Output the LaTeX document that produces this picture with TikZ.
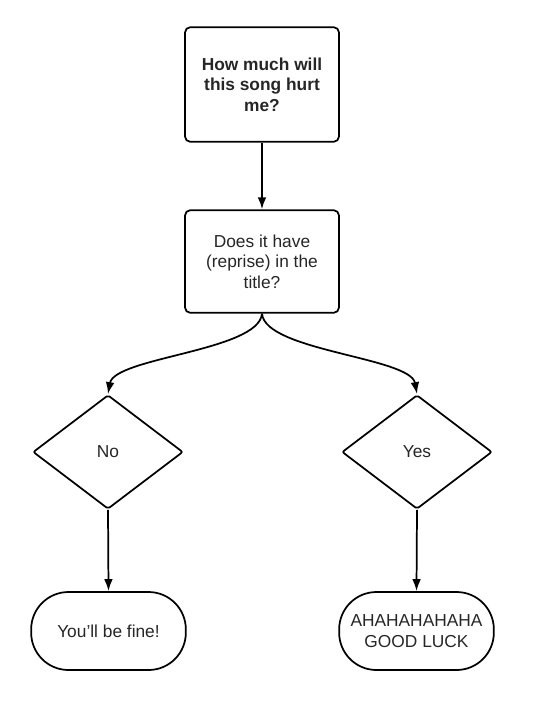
\documentclass[tikz,border=0pt]{standalone}
\usepackage{fontspec}
\setmainfont{Liberation Sans}
\usetikzlibrary{arrows.meta,shapes.geometric}

\tikzset{
	procbox/.style={draw, rectangle, rounded corners=4pt, minimum width=115.5pt, align=center, inner sep=2pt},
	choice/.style={draw, diamond, rounded corners=1.5pt, minimum width=112.5pt, minimum height=85.5pt, inner sep=0pt},
	endbox/.style={draw, rectangle, rounded corners=28pt, minimum width=116pt, minimum height=58.5pt, align=center},
}

\begin{document}
\begin{tikzpicture}[x=0.75pt, y=-0.75pt, >={Latex[length=9pt,width=6.5pt]}, line width=1.3pt,
	font=\fontsize{13}{15.5}\selectfont, text=black!85]
	\useasboundingbox (0,0) rectangle (540,707);

	% 方框
	\node[procbox, minimum height=86pt, font=\fontsize{13}{15.5}\selectfont\bfseries] (question) at (262,84.5) {How much will\\this song hurt\\me?};
	\node[procbox, minimum height=77pt] (reprise) at (262,261.5) {Does it have\\(reprise) in the\\title?};

	% 判断
	\node[choice] (no) at (108,452) {No};
	\node[choice] (yes) at (417,452) {Yes};

	% 结果
	\node[endbox] (fine) at (108.5,631) {You'll be fine!};
	\node[endbox] (luck) at (416.5,631) {AHAHAHAHAHA\\GOOD LUCK};

	% 连线
	\draw[->] (question) -- (reprise);
	\draw[->] (reprise.south) to[out=-95, in=80, looseness=0.55] (no.north);
	\draw[->] (reprise.south) to[out=-85, in=100, looseness=0.55] (yes.north);
	\draw[->] (no.south) -- (fine.north);
	\draw[->] (yes.south) -- (luck.north);
\end{tikzpicture}
\end{document}
